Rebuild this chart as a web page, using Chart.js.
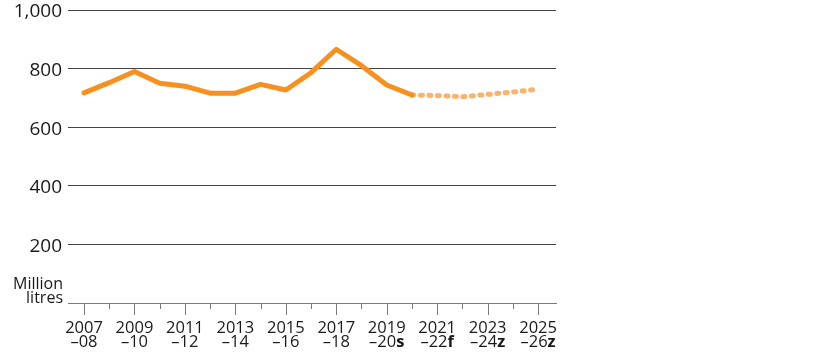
<!DOCTYPE html>
<html>
<head>
<meta charset="utf-8">
<script src="https://cdn.jsdelivr.net/npm/chart.js@4.4.1/dist/chart.umd.min.js"></script>
<style>
  html, body { margin: 0; padding: 0; background: #fff; }
  #c { display: block; }
</style>
</head>
<body>
<canvas id="c" width="816" height="357"></canvas>
<script>
// ---- data ----
const categories = ['2007–08','2008–09','2009–10','2010–11','2011–12','2012–13','2013–14','2014–15','2015–16','2016–17','2017–18','2018–19','2019–20','2020–21','2021–22','2022–23','2023–24','2024–25','2025–26'];
const actualValues = [717, 752, 790, 750, 740, 716, 716, 746, 727, 786, 866, 810, 744, 710];
const forecastStart = 13;
const forecastValues = [710, 708, 704, 712, 720, 730];
const yTicks = [0, 200, 400, 600, 800, 1000];
const tickLabelIdx = [0, 2, 4, 6, 8, 10, 12, 14, 16, 18];
const tickLine1 = ['2007', '2009', '2011', '2013', '2015', '2017', '2019', '2021', '2023', '2025'];
const tickLine2 = ['–08', '–10', '–12', '–14', '–16', '–18', '–20', '–22', '–24', '–26'];
const tickSuffix = ['', '', '', '', '', '', 's', 'f', 'z', 'z'];
const unitLabel = ['Million', 'litres'];

const FONT = '"Open Sans", "Noto Sans", sans-serif';
const TEXT = '#1a1a1a';
const GRID = '#444444';
const AXIS = '#7a7a7a';

const actualData = actualValues.map((v, i) => ({ x: i, y: v }));
const forecastData = forecastValues.map((v, i) => ({ x: forecastStart + i, y: v }));

const customText = {
  id: 'customText',
  afterDraw(chart) {
    const ctx = chart.ctx;
    const xs = chart.scales.x;
    const base = chart.chartArea.bottom;
    ctx.save();
    ctx.strokeStyle = AXIS;
    ctx.lineWidth = 1;
    for (let i = 0; i < categories.length; i++) {
      const x = Math.round(xs.getPixelForValue(i)) + 0.5;
      const len = (i % 2 === 0) ? 12 : 6;
      ctx.beginPath();
      ctx.moveTo(x, base);
      ctx.lineTo(x, base + len);
      ctx.stroke();
    }
    ctx.fillStyle = TEXT;
    ctx.textBaseline = 'alphabetic';
    const reg = '16.5px ' + FONT;
    const bold = 'bold 16.5px ' + FONT;
    tickLabelIdx.forEach((idx, k) => {
      const x = xs.getPixelForValue(idx);
      ctx.font = reg;
      ctx.textAlign = 'center';
      ctx.fillText(tickLine1[k], x, base + 30);
      const w1 = ctx.measureText(tickLine2[k]).width;
      ctx.font = bold;
      const w2 = tickSuffix[k] ? ctx.measureText(tickSuffix[k]).width : 0;
      const start = x - (w1 + w2) / 2;
      ctx.textAlign = 'left';
      ctx.font = reg;
      ctx.fillText(tickLine2[k], start, base + 44);
      if (tickSuffix[k]) {
        ctx.font = bold;
        ctx.fillText(tickSuffix[k], start + w1, base + 44);
      }
    });
    ctx.font = '16px ' + FONT;
    ctx.textAlign = 'right';
    ctx.fillText(unitLabel[0], 63, base - 14);
    ctx.fillText(unitLabel[1], 63, base);
    ctx.restore();
  }
};

new Chart(document.getElementById('c'), {
  type: 'line',
  data: {
    datasets: [
      {
        data: actualData,
        borderColor: '#f7901e',
        borderWidth: 5,
        pointRadius: 0,
        tension: 0,
        borderJoinStyle: 'round',
        borderCapStyle: 'round'
      },
      {
        data: forecastData,
        borderColor: '#fbb26c',
        borderWidth: 5,
        pointRadius: 0,
        tension: 0,
        borderDash: [2, 6.5],
        borderCapStyle: 'round',
        borderJoinStyle: 'round'
      }
    ]
  },
  options: {
    responsive: false,
    animation: false,
    devicePixelRatio: 1,
    layout: { padding: { top: 10, right: 260, left: 0, bottom: 0 } },
    plugins: { legend: { display: false }, tooltip: { enabled: false } },
    scales: {
      x: {
        type: 'linear',
        min: -0.634,
        max: 18.71,
        ticks: { display: false, stepSize: 1 },
        grid: { display: false },
        border: { display: true, color: AXIS, width: 1 },
        afterFit(s) { s.height = 54; s.paddingLeft = 0; s.paddingRight = 0; }
      },
      y: {
        min: 0,
        max: 1000,
        afterBuildTicks(s) { s.ticks = yTicks.map(v => ({ value: v })); },
        ticks: {
          stepSize: 200,
          padding: 6,
          labelOffset: 2,
          color: TEXT,
          font: { family: FONT, size: 19 },
          callback: v => v === 0 ? '' : v.toLocaleString('en-US')
        },
        grid: {
          drawTicks: false,
          color: ctx => (ctx.tick && ctx.tick.value === 0) ? AXIS : GRID,
          lineWidth: 1
        },
        border: { display: false },
        afterFit(s) { s.width = 68; s.paddingTop = 0; s.paddingBottom = 0; }
      }
    }
  },
  plugins: [customText]
});
</script>
</body>
</html>
